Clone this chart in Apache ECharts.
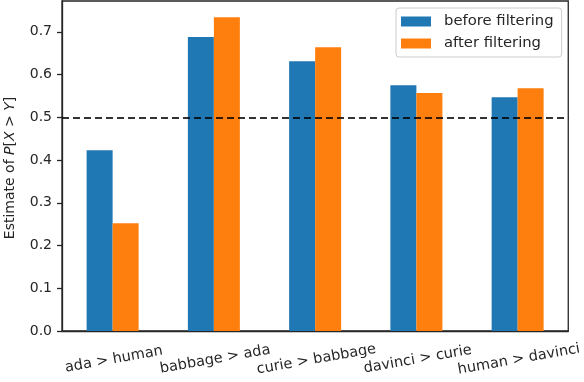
<!DOCTYPE html>
<html>
<head>
<meta charset="utf-8">
<script src="https://cdn.jsdelivr.net/npm/echarts@6/dist/echarts.min.js"></script>
<style>
html,body{margin:0;padding:0;background:#fff;}
#chart{width:584px;height:382px;}
</style>
</head>
<body>
<div id="chart"></div>
<script>
const categories = ['ada > human', 'babbage > ada', 'curie > babbage', 'davinci > curie', 'human > davinci'];
const beforeFiltering = [0.423, 0.688, 0.631, 0.575, 0.547];
const afterFiltering = [0.252, 0.734, 0.664, 0.557, 0.568];
const yTicks = [0.0, 0.1, 0.2, 0.3, 0.4, 0.5, 0.6, 0.7];
const referenceLine = 0.5;

const FONT = 'DejaVu Sans';
const TXT = '#262626';
const chart = echarts.init(document.getElementById('chart'), null, {renderer: 'canvas'});
chart.setOption({
  animation: false,
  backgroundColor: '#fff',
  textStyle: {fontFamily: FONT},
  grid: {left: 62, right: 14, top: 1, bottom: 51, show: true, borderColor: '#262626', borderWidth: 1.3, backgroundColor: 'transparent'},
  legend: {
    orient: 'vertical',
    left: 396, top: 8,
    itemWidth: 30, itemHeight: 10, itemGap: 7,
    padding: [6, 8, 6, 5],
    borderColor: '#cccccc', borderWidth: 1, borderRadius: 3,
    backgroundColor: 'rgba(255,255,255,0.8)',
    icon: 'rect',
    textStyle: {fontFamily: FONT, fontSize: 14.8, color: TXT, padding: [0, 0, 0, 8]},
    data: ['before filtering', 'after filtering']
  },
  xAxis: {
    type: 'category',
    data: categories,
    axisLine: {lineStyle: {color: '#262626', width: 1.3}},
    axisTick: {alignWithLabel: true, length: 5, lineStyle: {color: '#262626', width: 1.3}},
    axisLabel: {rotate: 10, align: 'center', verticalAlign: 'top', margin: 21, fontFamily: FONT, fontSize: 14.5, color: TXT, interval: 0}
  },
  yAxis: {
    type: 'value',
    min: 0, max: 0.772, interval: 0.1,
    splitLine: {show: false},
    axisLine: {show: true, lineStyle: {color: '#262626', width: 1.3}},
    axisTick: {show: true, length: 5, customValues: yTicks, lineStyle: {color: '#262626', width: 1.3}},
    axisLabel: {customValues: yTicks, margin: 10, fontFamily: FONT, fontSize: 14, color: TXT, formatter: v => v.toFixed(1)}
  },
  graphic: [{
    type: 'text',
    x: 10, y: 168,
    rotation: Math.PI / 2,
    style: {
      text: '{n|Estimate of }{i|P}{n|[}{i|X}{n| > }{i|Y}{n|]}',
      align: 'center', verticalAlign: 'middle',
      rich: {
        n: {fontFamily: FONT, fontSize: 14, fill: TXT},
        i: {fontFamily: FONT, fontSize: 14, fontStyle: 'italic', fill: TXT}
      }
    }
  }],
  series: [
    {
      name: 'before filtering', type: 'bar', data: beforeFiltering,
      barWidth: 26, barGap: '0%',
      itemStyle: {color: '#1f77b4'},
      markLine: {
        silent: true, symbol: 'none',
        label: {show: false},
        lineStyle: {color: 'rgba(0,0,0,0.8)', width: 2, type: [7, 4]},
        data: [{yAxis: referenceLine}],
        z: 10
      }
    },
    {
      name: 'after filtering', type: 'bar', data: afterFiltering,
      barWidth: 26, barGap: '0%',
      itemStyle: {color: '#ff7f0e'}
    }
  ]
});
</script>
</body>
</html>
